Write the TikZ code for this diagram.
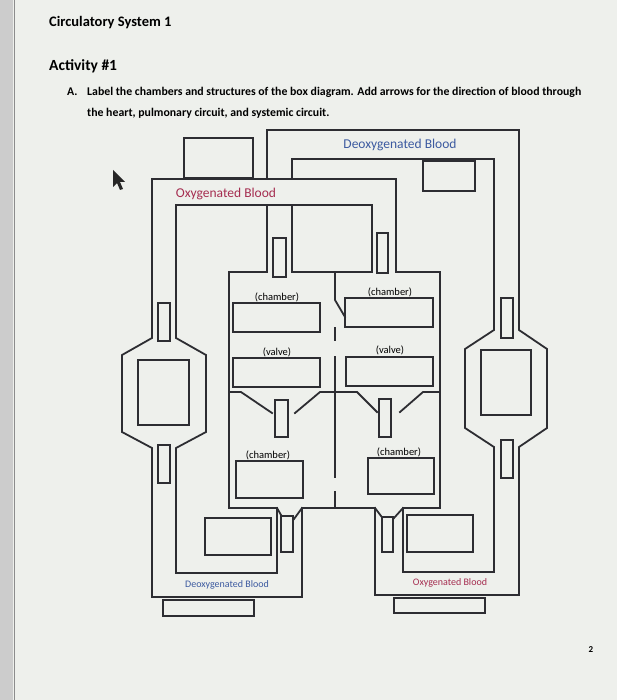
\documentclass[tikz,border=0pt]{standalone}
\usepackage{fontspec}
\setmainfont{Carlito}
\usepackage{xcolor}
\usepackage{tikz}
\usetikzlibrary{positioning}
\definecolor{oxyred}{RGB}{165, 45, 80}
\definecolor{deoxyblue}{RGB}{60, 90, 160}
\definecolor{wallgray}{RGB}{45, 45, 50}
\definecolor{pagebg}{RGB}{238, 240, 236}

\begin{document}
\begin{tikzpicture}[x=1pt, y=-1pt,
    wall/.style={wallgray, line width=1.8pt, line cap=rect},
    box/.style={wallgray, line width=1.4pt},
    lbl/.style={font=\fontsize{10.5}{11}\selectfont, inner sep=0pt}]
\useasboundingbox (0,0) rectangle (617,700);

% Page
\fill[pagebg] (0,0) rectangle (617,700);
\fill[black!20] (0,0) rectangle (13,700);
\draw[black!45, line width=1pt] (14,0) -- (14,700);

% Heading and task
\node[anchor=base west, inner sep=0pt, font=\fontsize{14.5}{16}\selectfont\bfseries] (title) at (49,27) {Circulatory System 1};
\node[anchor=base west, inner sep=0pt, font=\fontsize{15.5}{17}\selectfont\bfseries] (activity) at (49,71) {Activity \#1};
\node[anchor=base west, inner sep=0pt, font=\fontsize{11.8}{13}\selectfont\bfseries] (itema) at (67,96) {A.};
\node[anchor=base west, inner sep=0pt, font=\fontsize{11.8}{13}\selectfont\bfseries] (taska) at (87,96) {Label the chambers and structures of the box diagram. Add arrows for the direction of blood through};
\node[anchor=base west, inner sep=0pt, font=\fontsize{11.8}{13}\selectfont\bfseries] (taskb) at (87,117) {the heart, pulmonary circuit, and systemic circuit.};

% Pointer
\fill[black!85] (113,170) -- (113,187) -- (117,183) -- (120,190) -- (123,189) -- (120,182) -- (125,182) -- cycle;

% Deoxygenated loop (right hexagon)
\draw[wall] (267,179) -- (267,130) -- (519,130) -- (519,330) -- (547,349) -- (547,428) -- (519,447) -- (519,595) -- (375,595) -- (375,508);
\draw[wall] (292,179) -- (292,159) -- (494,159) -- (494,330) -- (465,349) -- (465,428) -- (494,447) -- (494,572) -- (403,572) -- (403,508);
\draw[wall] (267,205) -- (267,272);
\draw[wall] (292,205) -- (292,272);

% Oxygenated loop (left hexagon)
\draw[wall] (302,508) -- (302,597) -- (152,597) -- (152,448) -- (122,432) -- (122,355) -- (152,338) -- (152,179) -- (396,179) -- (396,272);
\draw[wall] (277,508) -- (277,573) -- (176,573) -- (176,448) -- (206,432) -- (206,355) -- (176,338) -- (176,205) -- (372,205) -- (372,272);

% Heart walls
\draw[wall] (267,272) -- (229,272) -- (229,508) -- (277,508);
\draw[wall] (292,272) -- (372,272);
\draw[wall] (396,272) -- (440,272) -- (440,508) -- (403,508);
\draw[wall] (302,508) -- (375,508);

% Septum
\draw[wall] (335,272) -- (335,300) -- (345,317);
\draw[wall] (335,328) -- (335,340);
\draw[wall] (335,357) -- (335,477);
\draw[wall] (335,492) -- (335,508);

% Atria / ventricles
\draw[wall] (229,392) -- (241,392) -- (272,413);
\draw[wall] (295,413) -- (320,392) -- (357,392) -- (377,412);
\draw[wall] (400,412) -- (423,392) -- (440,392);

% Flaps at the outlets
\draw[wall] (277,508) -- (281,515);
\draw[wall] (302,508) -- (294,519);
\draw[wall] (375,508) -- (381,516);
\draw[wall] (403,508) -- (394,518);

% Valve bars
\foreach \xa/\ya/\xb/\yb in {273/238/286/277, 377/233/388/273, 275/400/288/437, 379/399/391/437,
    281/516/293/552, 382/517/393/552, 158/303/170/341, 158/445/170/483, 501/298/513/338, 501/440/513/478}
    \draw[box] (\xa,\ya) rectangle (\xb,\yb);

% Capillary beds
\draw[box] (138,360) rectangle (189,425);
\draw[box] (481,350) rectangle (531,415);

% Answer boxes
\foreach \xa/\ya/\xb/\yb in {184/138/253/178, 423/161/475/191, 233/303/320/332, 233/358/320/387,
    345/298/433/327, 346/357/433/386, 236/461/303/498, 368/458/434/494,
    205/518/271/555, 407/515/473/552, 163/600/254/616, 394/598/485/613}
    \draw[box] (\xa,\ya) rectangle (\xb,\yb);

% Labels
\node[font=\fontsize{13.5}{15}\selectfont, text=oxyred] (oxytop) at (226,194) {Oxygenated Blood};
\node[font=\fontsize{13.5}{15}\selectfont, text=deoxyblue] (deoxytop) at (400,145) {Deoxygenated Blood};
\node[lbl, font=\fontsize{10}{11}\selectfont, text=deoxyblue] (deoxybot) at (227,585) {Deoxygenated Blood};
\node[lbl, font=\fontsize{10}{11}\selectfont, text=oxyred] (oxybot) at (450,583) {Oxygenated Blood};
\node[lbl] (ratop) at (277,297) {(chamber)};
\node[lbl] (latop) at (390,292) {(chamber)};
\node[lbl] (rvalve) at (277,352) {(valve)};
\node[lbl] (lvalve) at (390,350) {(valve)};
\node[lbl] (rvent) at (268,455) {(chamber)};
\node[lbl] (lvent) at (399,452) {(chamber)};

% Page number
\node[font=\fontsize{9}{10}\selectfont\bfseries] (pagenum) at (591,650) {2};
\end{tikzpicture}
\end{document}
